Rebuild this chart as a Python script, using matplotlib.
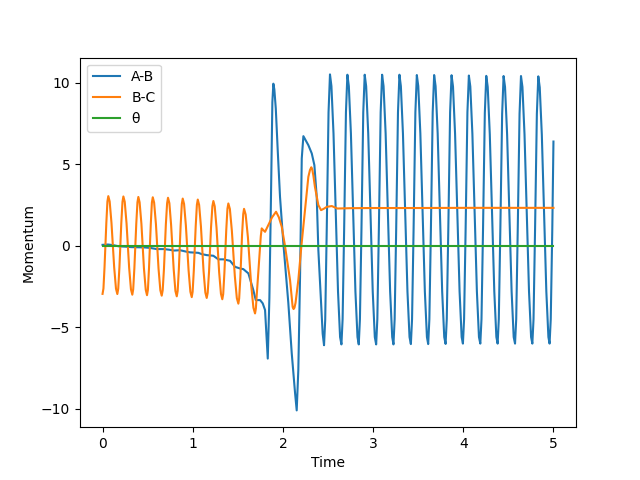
import matplotlib.pyplot as plt

# A-B momentum
time_ab = [
    0.000, 0.060, 0.120, 0.180, 0.250, 0.320, 0.400, 0.470, 0.530, 0.600,
    0.680, 0.740, 0.790, 0.860, 0.930, 0.971, 1.062, 1.100, 1.155, 1.229,
    1.284, 1.340, 1.414, 1.469, 1.525, 1.561, 1.617, 1.672, 1.699, 1.747,
    1.776, 1.802, 1.818, 1.832, 1.850, 1.868, 1.876, 1.883, 1.894, 1.905,
    1.921, 1.943, 1.968, 2.005, 2.060, 2.098, 2.135, 2.153, 2.171, 2.190,
    2.203, 2.209, 2.227, 2.255, 2.282, 2.320, 2.349, 2.375, 2.393, 2.423,
    2.441,
    2.456, 2.469, 2.486, 2.506, 2.522, 2.538, 2.561, 2.586, 2.611, 2.634,
    2.649, 2.662, 2.679, 2.699, 2.715, 2.731, 2.754, 2.779, 2.804, 2.827,
    2.841, 2.854, 2.871, 2.891, 2.907, 2.923, 2.946, 2.971, 2.996, 3.019,
    3.034, 3.047, 3.064, 3.084, 3.100, 3.116, 3.139, 3.164, 3.189, 3.212,
    3.226, 3.239, 3.256, 3.276, 3.292, 3.308, 3.331, 3.356, 3.381, 3.404,
    3.419, 3.432, 3.449, 3.469, 3.485, 3.501, 3.524, 3.549, 3.574, 3.597,
    3.611, 3.624, 3.641, 3.661, 3.677, 3.693, 3.716, 3.741, 3.766, 3.789,
    3.804, 3.817, 3.834, 3.854, 3.870, 3.886, 3.909, 3.934, 3.959, 3.982,
    3.996, 4.009, 4.026, 4.046, 4.062, 4.078, 4.101, 4.126, 4.151, 4.174,
    4.189, 4.202, 4.219, 4.239, 4.255, 4.271, 4.294, 4.319, 4.344, 4.367,
    4.381, 4.394, 4.411, 4.431, 4.447, 4.463, 4.486, 4.511, 4.536, 4.559,
    4.574, 4.587, 4.604, 4.624, 4.640, 4.656, 4.679, 4.704, 4.729, 4.752,
    4.766, 4.779, 4.796, 4.816, 4.832, 4.848, 4.871, 4.896, 4.921, 4.944,
    4.957, 4.970, 4.987, 5.000,
]
ab = [
    0.06, 0.08, 0.04, -0.03, -0.05, -0.08, -0.09, -0.10, -0.13, -0.20,
    -0.20, -0.24, -0.29, -0.27, -0.36, -0.40, -0.43, -0.51, -0.57, -0.61,
    -0.83, -0.83, -0.92, -1.29, -1.39, -1.43, -1.69, -2.72, -3.33, -3.33,
    -3.53, -3.94, -5.50, -6.92, -3.20, 3.10, 6.40, 8.80, 9.95, 9.60,
    8.43, 5.80, 3.00, 0.15, -3.50, -6.60, -9.05, -10.10, -7.60, -1.90,
    3.00, 5.36, 6.73, 6.45, 6.18, 5.67, 4.95, 3.00, -0.26, -3.50,
    -5.40,
    -6.10, -4.55, 1.00, 8.20, 10.52, 9.80, 6.90, 2.00, -2.80, -5.60,
    -6.05, -4.50, 1.00, 8.20, 10.50, 9.80, 6.90, 2.00, -2.80, -5.60,
    -6.05, -4.50, 1.00, 8.20, 10.50, 9.80, 6.90, 2.00, -2.80, -5.60,
    -6.05, -4.50, 1.00, 8.20, 10.50, 9.80, 6.90, 2.00, -2.80, -5.60,
    -6.05, -4.50, 1.00, 8.20, 10.50, 9.80, 6.90, 2.00, -2.80, -5.60,
    -6.03, -4.50, 1.00, 8.20, 10.48, 9.80, 6.90, 2.00, -2.80, -5.60,
    -6.03, -4.50, 1.00, 8.20, 10.48, 9.80, 6.90, 2.00, -2.80, -5.60,
    -6.02, -4.50, 1.00, 8.20, 10.47, 9.78, 6.88, 2.00, -2.80, -5.60,
    -6.00, -4.50, 1.00, 8.20, 10.45, 9.78, 6.88, 2.00, -2.80, -5.60,
    -6.00, -4.50, 1.00, 8.15, 10.43, 9.75, 6.85, 2.00, -2.80, -5.60,
    -6.00, -4.50, 1.00, 8.10, 10.42, 9.75, 6.85, 2.00, -2.80, -5.60,
    -6.00, -4.50, 1.00, 8.10, 10.42, 9.75, 6.85, 2.00, -2.80, -5.60,
    -6.00, -4.50, 1.00, 8.10, 10.40, 9.72, 6.82, 2.00, -2.80, -5.60,
    -6.00, -4.50, 1.00, 6.40,
]

# B-C momentum
time_bc = [
    0.000, 0.010, 0.022, 0.042, 0.054, 0.064, 0.079, 0.099, 0.129, 0.149,
    0.164, 0.174, 0.187, 0.208, 0.221, 0.231, 0.246, 0.266, 0.295, 0.315,
    0.330, 0.340, 0.353, 0.374, 0.387, 0.397, 0.411, 0.431, 0.459, 0.479,
    0.493, 0.503, 0.515, 0.535, 0.547, 0.557, 0.572, 0.592, 0.621, 0.641,
    0.656, 0.667, 0.681, 0.702, 0.716, 0.726, 0.741, 0.760, 0.789, 0.808,
    0.823, 0.833, 0.846, 0.866, 0.879, 0.889, 0.904, 0.924, 0.954, 0.974,
    0.989, 0.999, 1.012, 1.033, 1.046, 1.056, 1.071, 1.091, 1.120, 1.140,
    1.155, 1.166, 1.181, 1.203, 1.218, 1.229, 1.244, 1.264, 1.293, 1.313,
    1.328, 1.338, 1.351, 1.372, 1.385, 1.395, 1.412, 1.434, 1.467, 1.489,
    1.506, 1.515, 1.528, 1.547, 1.560, 1.569, 1.587, 1.612, 1.648, 1.673,
    1.691, 1.700, 1.710, 1.735, 1.755, 1.765, 1.785, 1.802, 1.840, 1.880,
    1.924, 1.955, 1.987, 2.020, 2.050, 2.079, 2.100, 2.108, 2.118, 2.128,
    2.140, 2.171, 2.205, 2.245, 2.282, 2.300, 2.315, 2.325, 2.338, 2.355,
    2.393, 2.423, 2.455, 2.486, 2.542, 2.604, 2.745, 3.000, 3.500, 4.000,
    4.500, 5.000,
]
bc = [
    -2.95, -2.62, -1.31, 1.41, 2.72, 3.05, 2.72, 1.41, -1.32, -2.63,
    -2.96, -2.63, -1.33, 1.40, 2.70, 3.03, 2.70, 1.38, -1.35, -2.67,
    -3.00, -2.67, -1.36, 1.36, 2.67, 3.00, 2.67, 1.35, -1.38, -2.70,
    -3.03, -2.70, -1.39, 1.34, 2.65, 2.98, 2.65, 1.33, -1.41, -2.73,
    -3.06, -2.73, -1.42, 1.31, 2.62, 2.95, 2.62, 1.30, -1.45, -2.77,
    -3.10, -2.77, -1.46, 1.26, 2.57, 2.90, 2.57, 1.25, -1.50, -2.82,
    -3.15, -2.82, -1.51, 1.20, 2.51, 2.84, 2.51, 1.19, -1.55, -2.87,
    -3.20, -2.88, -1.58, 1.13, 2.43, 2.75, 2.42, 1.10, -1.63, -2.95,
    -3.28, -2.96, -1.67, 0.99, 2.28, 2.60, 2.26, 0.92, -1.87, -3.21,
    -3.55, -3.23, -1.96, 0.68, 1.95, 2.27, 1.92, 0.52, -2.40, -3.80,
    -4.15, -3.85, -3.00, -1.00, 0.60, 1.07, 0.95, 0.86, 1.30, 1.75,
    2.09, 1.75, 1.17, 0.10, -1.00, -2.10, -3.30, -3.75, -3.88, -3.80,
    -3.50, -2.10, 0.00, 2.19, 4.23, 4.65, 4.82, 4.70, 4.30, 3.62,
    2.50, 2.19, 2.28, 2.39, 2.44, 2.29, 2.31, 2.32, 2.32, 2.33,
    2.33, 2.33,
]

# angle stays at zero the whole run
time_theta = [0.0, 5.0]
theta = [0.0, 0.0]

fig, ax = plt.subplots(figsize=(6.4, 4.8), dpi=100)

ax.plot(time_ab, ab, label="A-B")
ax.plot(time_bc, bc, label="B-C")
ax.plot(time_theta, theta, label="θ")

ax.set_xlabel("Time")
ax.set_ylabel("Momentum")
ax.legend(loc="upper left")

fig.savefig("out.png")
